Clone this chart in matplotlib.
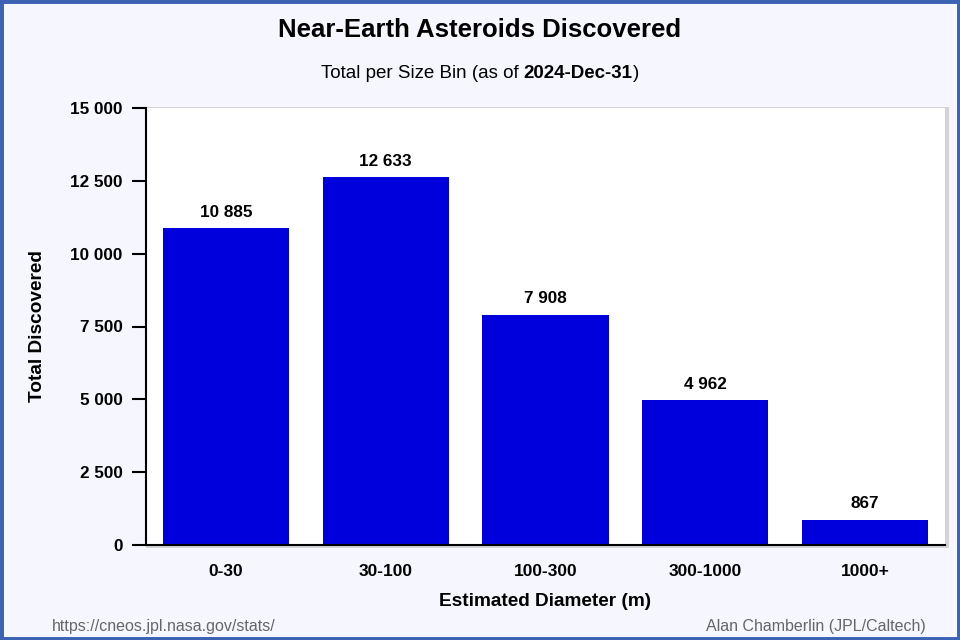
import matplotlib.pyplot as plt
from matplotlib.patches import Rectangle
from matplotlib.ticker import FuncFormatter

plt.rcParams['font.family'] = ['Liberation Sans', 'DejaVu Sans']

sizes = ["0-30", "30-100", "100-300", "300-1000", "1000+"]
counts = [10885, 12633, 7908, 4962, 867]
yticks = [0, 2500, 5000, 7500, 10000, 12500, 15000]

bg = '#f6f7fe'
bar_color = '#0000dd'

fig = plt.figure(figsize=(9.6, 6.4), dpi=100, facecolor=bg)
# blue frame around the figure
fig.patches.append(Rectangle((0, 0), 1, 1, transform=fig.transFigure, fill=False,
                             edgecolor='#3b62b3', linewidth=5, zorder=10))

ax_l, ax_b, ax_w, ax_h = 146/960, 95/640, 799/960, 437/640
# soft shadow behind plot area
fig.patches.append(Rectangle((ax_l, ax_b - 3/640), ax_w + 4/960, ax_h + 4/640,
                             transform=fig.transFigure, facecolor='#d4d4d8',
                             edgecolor='none', zorder=0.5))
ax = fig.add_axes([ax_l, ax_b, ax_w, ax_h])
ax.set_zorder(1)
ax.set_facecolor('white')

x = list(range(len(sizes)))
ax.bar(x, counts, width=0.79, color=bar_color, zorder=2)
for xi, c in zip(x, counts):
    ax.annotate(f"{c:,}".replace(",", " "), (xi, c), xytext=(0, 6),
                textcoords='offset points', ha='center', va='bottom',
                fontsize=12.3, fontweight='bold')

ax.set_xlim(-0.5, len(sizes) - 0.5)
ax.set_ylim(0, 15000)
ax.set_yticks(yticks)
ax.yaxis.set_major_formatter(FuncFormatter(lambda v, p: f"{int(v):,}".replace(",", " ")))
ax.set_xticks(x)
ax.set_xticklabels(sizes)
ax.tick_params(axis='y', length=10, width=1.5, pad=7, labelsize=12.3)
ax.tick_params(axis='x', length=0, pad=14, labelsize=12.5)
for lab in ax.get_xticklabels() + ax.get_yticklabels():
    lab.set_fontweight('bold')

for s in ['top', 'right']:
    ax.spines[s].set_visible(False)
for s in ['left', 'bottom']:
    ax.spines[s].set_linewidth(1.5)
    ax.spines[s].set_color('black')

ax.set_xlabel("Estimated Diameter (m)", fontsize=13.7, fontweight='bold', labelpad=10)
ax.set_ylabel("Total Discovered", fontsize=13.7, fontweight='bold', labelpad=17)

fig.text(0.5, 1 - 30/640, "Near-Earth Asteroids Discovered", ha='center', va='center',
         fontsize=18.5, fontweight='bold')

# subtitle with a bold date part
parts = [("Total per Size Bin (as of", 'normal'), ("2024-Dec-31", 'bold'), (")", 'normal')]
gaps = [4.5, 0, 0]
fig.canvas.draw()
renderer = fig.canvas.get_renderer()
texts = []
for t, w in parts:
    texts.append(fig.text(0, 1 - 73/640, t, ha='left', va='center', fontsize=13.5, fontweight=w))
widths = [tx.get_window_extent(renderer).width for tx in texts]
total = sum(widths) + sum(gaps)
start = 480 - total / 2
for tx, wd, g in zip(texts, widths, gaps):
    tx.set_x(start / 960)
    start += wd + g

fig.text(52/960, 1 - 626/640, "https://cneos.jpl.nasa.gov/stats/", ha='left', va='center',
         fontsize=11.5, color='#666666')
fig.text(926/960, 1 - 626/640, "Alan Chamberlin (JPL/Caltech)", ha='right', va='center',
         fontsize=11.5, color='#666666')

fig.savefig("out.png", dpi=100, facecolor=bg)
